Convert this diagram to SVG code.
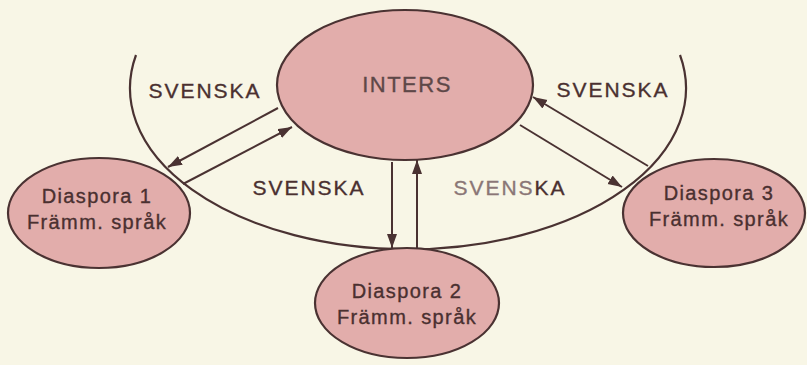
<svg xmlns="http://www.w3.org/2000/svg" width="807" height="365" viewBox="0 0 807 365">
  <defs>
    <marker id="head" markerUnits="userSpaceOnUse" markerWidth="15" markerHeight="11" refX="14" refY="5" orient="auto">
      <path d="M0,0 L14,5 L0,10 z" fill="#4a3232"/>
    </marker>
  </defs>
  <style>
    .node { fill: #e2adab; stroke: #4a3232; stroke-width: 2.2; }
    .lbl { font-family: "Liberation Sans", Arial, sans-serif; fill: #4a3030; stroke: #4a3030; stroke-width: 0.35; text-anchor: middle; }
    .nodetxt { font-size: 20px; letter-spacing: 1.4px; }
    .sv { font-size: 21px; letter-spacing: 2px; }
    .title { font-size: 22px; letter-spacing: 1.5px; fill: #5e4848; stroke: #5e4848; }
    .link { stroke: #4a3232; stroke-width: 2; fill: none; marker-end: url(#head); }
    .bound { stroke: #4a3232; stroke-width: 2.2; fill: none; }
  </style>

  <rect width="807" height="365" fill="#f8f6e6"/>

  <!-- boundary curve around the central language area -->
  <path class="bound" d="M136,55 A278,161 0 1 0 680,55"/>

  <g id="inters">
    <ellipse class="node" cx="405" cy="85" rx="128" ry="75"/>
    <text class="lbl title" x="407" y="92">INTERS</text>
  </g>

  <g id="diaspora1">
    <ellipse class="node" cx="99" cy="213" rx="91" ry="55"/>
    <text class="lbl nodetxt" x="97" y="203">Diaspora 1</text>
    <text class="lbl nodetxt" x="97" y="229">Främm. språk</text>
  </g>

  <g id="diaspora2">
    <ellipse class="node" cx="407" cy="303" rx="92" ry="55"/>
    <text class="lbl nodetxt" x="407" y="298">Diaspora 2</text>
    <text class="lbl nodetxt" x="407" y="324">Främm. språk</text>
  </g>

  <g id="diaspora3">
    <ellipse class="node" cx="714" cy="213" rx="91" ry="54"/>
    <text class="lbl nodetxt" x="719" y="200">Diaspora 3</text>
    <text class="lbl nodetxt" x="719" y="226">Främm. språk</text>
  </g>

  <g id="connectors">
    <line class="link" x1="278" y1="108" x2="168" y2="167"/>
    <line class="link" x1="183" y1="184" x2="292" y2="127"/>
    <line class="link" x1="392" y1="162" x2="392" y2="248"/>
    <line class="link" x1="417" y1="248" x2="417" y2="160"/>
    <line class="link" x1="648" y1="166" x2="533" y2="97"/>
    <line class="link" x1="520" y1="125" x2="622" y2="187"/>
  </g>

  <g id="labels">
    <text class="lbl sv" x="205" y="98">SVENSKA</text>
    <text class="lbl sv" x="613" y="97">SVENSKA</text>
    <text class="lbl sv" x="309" y="195">SVENSKA</text>
    <text class="lbl sv" x="510" y="195"><tspan fill="#8a7676" stroke="#8a7676">SVENS</tspan>KA</text>
  </g>
</svg>
